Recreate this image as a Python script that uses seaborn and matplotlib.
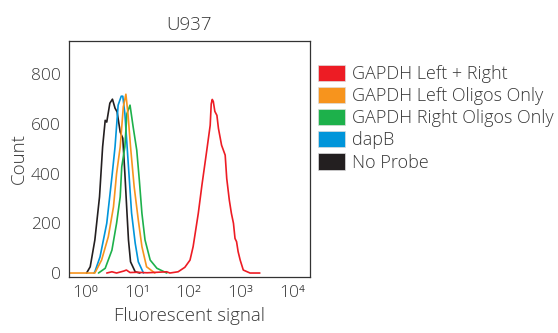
import matplotlib
matplotlib.use("Agg")
import matplotlib.pyplot as plt
from matplotlib.patches import Patch
import pandas as pd
import seaborn as sns

# ---- data (x in log10 units of fluorescent signal, y = count) ----
series_names = ["GAPDH Left + Right", "GAPDH Left Oligos Only",
                "GAPDH Right Oligos Only", "dapB", "No Probe"]
series_colors = ["#ED1C24", "#F7941D", "#1DB14B", "#0095DA", "#231F20"]

black_x = [0.03, 0.10, 0.19, 0.28, 0.34, 0.39, 0.42, 0.48, 0.53, 0.58, 0.62, 0.68, 0.73, 0.77, 0.81, 0.84, 0.88, 0.97, 1.06]
black_y = [0, 25, 133, 306, 507, 614, 607, 683, 699, 663, 648, 567, 542, 401, 246, 133, 45, 5, 0]

blue_x = [0.17, 0.19, 0.29, 0.42, 0.52, 0.58, 0.64, 0.70, 0.73, 0.77, 0.84, 0.90, 0.97, 1.03, 1.13]
blue_y = [0, 5, 65, 200, 387, 507, 675, 711, 711, 642, 427, 241, 120, 45, 0]

orange_x = [-0.31, 0.19, 0.32, 0.45, 0.55, 0.61, 0.68, 0.74, 0.79, 0.83, 0.88, 0.95, 1.03, 1.10, 1.19, 1.35]
orange_y = [0, 0, 52, 146, 266, 400, 507, 668, 719, 641, 507, 347, 213, 106, 25, 0]

green_x = [0.26, 0.39, 0.52, 0.61, 0.68, 0.71, 0.77, 0.81, 0.87, 0.93, 1.00, 1.05, 1.10, 1.16, 1.26, 1.39, 1.58]
green_y = [0, 19, 92, 200, 306, 427, 507, 641, 675, 588, 494, 373, 240, 133, 52, 19, 0]

red_x = [0.42, 0.52, 0.61, 0.75, 0.80, 0.87, 1.00, 1.20, 1.40, 1.58, 1.64, 1.80, 1.93, 2.03, 2.09, 2.19, 2.26, 2.35,
         2.42, 2.44, 2.46, 2.48, 2.51, 2.55, 2.58, 2.64, 2.71, 2.74, 2.79, 2.83, 2.87, 2.90, 2.93, 2.96, 3.00, 3.06,
         3.19, 3.38]
red_y = [0, 5, 0, 8, 12, 2, 3, 1, 3, 5, 0, 5, 23, 52, 106, 240, 353, 487,
         594, 680, 698, 690, 650, 634, 581, 514, 474, 380, 293, 240, 200, 139, 126, 86, 52, 12,
         0, 0]

x_ticks = [0, 1, 2, 3, 4]
x_tick_labels = ["10\u2070", "10\u00b9", "10\u00b2", "10\u00b3", "10\u2074"]
y_ticks = [0, 200, 400, 600, 800]

frames = []
for name, xs, ys in zip(["No Probe", "dapB", "GAPDH Right Oligos Only",
                         "GAPDH Left Oligos Only", "GAPDH Left + Right"],
                        [black_x, blue_x, green_x, orange_x, red_x],
                        [black_y, blue_y, green_y, orange_y, red_y]):
    frames.append(pd.DataFrame({"signal": xs, "count": ys, "probe": name}))
df = pd.concat(frames, ignore_index=True)
palette = dict(zip(series_names, series_colors))

# ---- style ----
sns.set_theme(style="white")
plt.rcParams["font.family"] = ["Open Sans", "DejaVu Sans"]
plt.rcParams["font.weight"] = "light"
plt.rcParams["axes.labelweight"] = "light"
plt.rcParams["axes.titleweight"] = "light"
text_col = "#383838"

fig = plt.figure(figsize=(5.58, 3.33), dpi=100)
ax = fig.add_axes([69 / 558, 1 - 277 / 333, (310 - 69) / 558, (277 - 41) / 333])

sns.lineplot(data=df, x="signal", y="count", hue="probe", palette=palette,
             units="probe", estimator=None, sort=False, linewidth=1.2,
             legend=False, ax=ax)

ax.set_xlim(-0.31, 4.35)
ax.set_ylim(-16, 933)
ax.set_xticks(x_ticks)
ax.set_xticklabels(x_tick_labels)
ax.set_yticks(y_ticks)
ax.tick_params(axis="both", length=0, labelsize=12.5, colors=text_col)
ax.tick_params(axis="x", pad=6)
ax.tick_params(axis="y", pad=6)
ax.set_xlabel("Fluorescent signal", fontsize=13.5, color=text_col, labelpad=4)
ax.set_ylabel("Count", fontsize=13.5, color=text_col, labelpad=2)
ax.set_title("U937", fontsize=13.5, color=text_col, pad=8)
for s in ax.spines.values():
    s.set_visible(True)
    s.set_color("#333333")
    s.set_linewidth(0.9)

handles = [Patch(facecolor=c, edgecolor="#dddddd", linewidth=0.5) for c in series_colors]
fig.legend(handles, series_names, loc="upper left", bbox_to_anchor=(318 / 558, 1 - 64.5 / 333),
           frameon=False, fontsize=13, handlelength=1.5, handleheight=1.0,
           handletextpad=0.36, labelspacing=0.22, borderaxespad=0, borderpad=0,
           labelcolor=text_col)

fig.savefig("out.png", dpi=100, facecolor="white")
